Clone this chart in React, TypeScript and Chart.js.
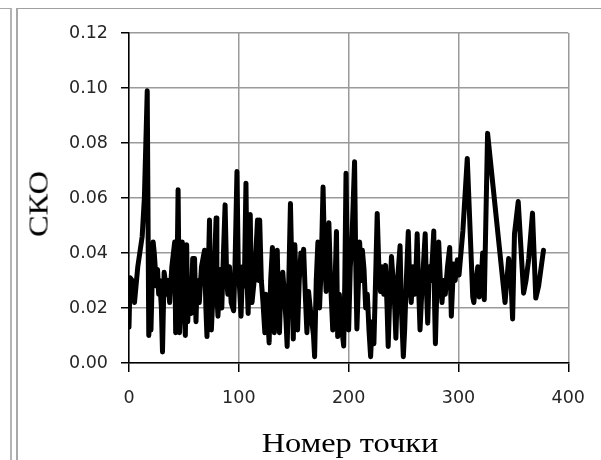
import React, { useEffect, useRef } from "react";
import { Chart, registerables } from "chart.js";

Chart.register(...registerables);

// Point index (x) and СКО values (y)
const pointX: number[] = [
  0, 1, 3, 5, 8, 12, 14, 16.6, 18, 19, 20, 22, 23, 25, 26, 27, 28, 29.5, 30.5, 32,
  33, 34, 35.5, 37, 39, 41.6, 42.5, 44, 44.7, 46, 47, 48.5, 49.5, 51.3, 52.5, 53.5, 55, 56.5, 58, 59.7,
  61, 62, 64, 66, 68.8, 70, 71, 72, 73.3, 74.3, 75, 77, 78.2, 79.3, 80, 81, 83, 84.5, 86, 87.5,
  89, 90, 91.5, 93, 95.3, 96.5, 98.3, 99.5, 101, 102, 103.5, 105, 106.5, 107.5, 108.5, 110.4, 111.3, 112, 114, 115.5,
  117, 118, 119, 120.5, 122, 123.7, 124.5, 126, 127.6, 129, 130.6, 131.5, 132.3, 133.5, 135, 136, 137, 138.5, 140, 141.5,
  143, 144, 145.5, 147, 148.5, 149.6, 151, 152.5, 153.5, 155, 156.5, 158, 159, 160.5, 162, 163.5, 165, 166.5, 168, 169,
  170.5, 172, 173.5, 175, 176.7, 178, 179.5, 180.5, 182, 183.5, 185.5, 187, 188.9, 190, 191.5, 193, 195.5, 196.5, 197.6, 199,
  200, 201.5, 203, 205.4, 206.5, 207.5, 209, 210, 211.5, 212.5, 214, 215.5, 217, 218.5, 220, 221.5, 223, 224.5, 226, 227.5,
  229, 230.5, 232, 233.6, 235, 236, 237.5, 239, 240.5, 242, 243, 244.5, 246.8, 248, 249.8, 251, 252.5, 254.3, 255.5, 257,
  258.5, 260, 261, 262.4, 263.5, 265, 266.5, 268, 269.7, 271, 272, 273.5, 275, 276.5, 277.5, 278.3, 279, 280.5, 282, 283.5,
  285, 286.5, 288, 290, 292, 293.5, 295.5, 297, 299, 300.5, 304, 308, 313, 314, 316, 317.6, 319, 320.5, 322, 323.5,
  326.5, 342.4, 345.7, 347.8, 349.3, 351, 354.4, 359.3, 361.5, 364, 367.4, 370.4, 373, 377.4,
];

const skoValues: number[] = [
  0.013, 0.031, 0.030, 0.022, 0.035, 0.046, 0.060, 0.099, 0.010, 0.016, 0.012, 0.044, 0.040, 0.028, 0.034, 0.025, 0.030, 0.020, 0.004, 0.033,
  0.030, 0.025, 0.030, 0.022, 0.035, 0.044, 0.011, 0.040, 0.063, 0.011, 0.030, 0.044, 0.025, 0.010, 0.043, 0.015, 0.030, 0.018, 0.038, 0.038,
  0.015, 0.030, 0.022, 0.035, 0.041, 0.020, 0.0096, 0.030, 0.052, 0.020, 0.012, 0.030, 0.040, 0.0527, 0.025, 0.017, 0.034, 0.020, 0.040, 0.0575,
  0.030, 0.025, 0.035, 0.022, 0.019, 0.035, 0.0696, 0.035, 0.025, 0.017, 0.035, 0.028, 0.0654, 0.030, 0.018, 0.054, 0.030, 0.022, 0.030, 0.040,
  0.052, 0.030, 0.052, 0.030, 0.022, 0.011, 0.025, 0.020, 0.0073, 0.030, 0.042, 0.025, 0.011, 0.035, 0.041, 0.022, 0.011, 0.030, 0.033, 0.025,
  0.015, 0.006, 0.030, 0.058, 0.030, 0.0087, 0.043, 0.025, 0.012, 0.030, 0.040, 0.035, 0.0414, 0.025, 0.011, 0.026, 0.020, 0.015, 0.010, 0.0023,
  0.030, 0.044, 0.020, 0.035, 0.064, 0.040, 0.026, 0.035, 0.051, 0.030, 0.012, 0.020, 0.0478, 0.0096, 0.025, 0.015, 0.0062, 0.030, 0.069, 0.030,
  0.012, 0.035, 0.045, 0.0732, 0.035, 0.0124, 0.030, 0.044, 0.030, 0.041, 0.034, 0.020, 0.025, 0.012, 0.0023, 0.015, 0.007, 0.030, 0.0544, 0.035,
  0.026, 0.035, 0.025, 0.0355, 0.020, 0.006, 0.025, 0.0387, 0.030, 0.020, 0.009, 0.030, 0.0426, 0.020, 0.0023, 0.012, 0.030, 0.0478, 0.030, 0.022,
  0.035, 0.025, 0.030, 0.047, 0.030, 0.012, 0.025, 0.035, 0.047, 0.025, 0.0145, 0.035, 0.030, 0.040, 0.048, 0.020, 0.007, 0.030, 0.044, 0.030,
  0.022, 0.030, 0.025, 0.035, 0.042, 0.017, 0.036, 0.030, 0.0375, 0.032, 0.048, 0.0744, 0.024, 0.022, 0.030, 0.035, 0.024, 0.028, 0.040, 0.023,
  0.0835, 0.022, 0.038, 0.030, 0.016, 0.047, 0.0587, 0.0254, 0.030, 0.038, 0.0545, 0.0236, 0.028, 0.041,
];

const xTicks: number[] = [0, 100, 200, 300, 400];
const yTickLabels: string[] = ["0.00", "0.02", "0.04", "0.06", "0.08", "0.10", "0.12"];
const xTitle = "Номер точки";
const yTitle = "СКО";

export default function App() {
  const ref = useRef<HTMLCanvasElement | null>(null);

  useEffect(() => {
    if (!ref.current) return;
    const data = pointX.map((x, i) => ({ x, y: skoValues[i] }));
    const tickFont = { family: "'DejaVu Sans', sans-serif", size: 17.5 };
    const chart = new Chart(ref.current, {
      type: "scatter",
      data: {
        datasets: [
          {
            data,
            showLine: true,
            borderColor: "#000",
            backgroundColor: "#000",
            borderWidth: 5,
            pointRadius: 0,
            tension: 0,
            borderJoinStyle: "round",
            borderCapStyle: "round",
          } as any,
        ],
      },
      options: {
        animation: false,
        responsive: false,
        devicePixelRatio: 1,
        layout: { padding: { top: 33, right: 30, left: 0, bottom: 0 } },
        plugins: { legend: { display: false }, tooltip: { enabled: false }, title: { display: false } },
        scales: {
          x: {
            type: "linear",
            min: xTicks[0],
            max: xTicks[xTicks.length - 1],
            afterFit: (s: any) => { s.height = 97; },
            afterBuildTicks: (s: any) => { s.ticks = xTicks.map((v) => ({ value: v })); },
            ticks: { font: tickFont, color: "#262626", padding: 16, maxRotation: 0 },
            grid: { color: "#9a9a9a", lineWidth: 1.5, tickColor: "#000", tickLength: 9, tickWidth: 1.5 },
            border: { color: "#000", width: 1.5 },
          },
          y: {
            type: "linear",
            min: 0,
            max: 0.12,
            afterFit: (s: any) => { s.width = 129; },
            afterBuildTicks: (s: any) => { s.ticks = yTickLabels.map((t) => ({ value: parseFloat(t) })); },
            ticks: {
              font: tickFont,
              color: "#262626",
              padding: 13,
              callback: (_v: any, i: number) => yTickLabels[i],
            },
            grid: { color: "#9a9a9a", lineWidth: 1.5, tickColor: "#000", tickLength: 8, tickWidth: 1.5 },
            border: { color: "#000", width: 1.5 },
          },
        },
      },
    });
    return () => chart.destroy();
  }, []);

  const serif = "'Liberation Serif', 'Times New Roman', serif";
  return (
    <div style={{ position: "fixed", left: 0, top: 0, width: 601, height: 460, background: "#fff", overflow: "hidden" }}>
      <div style={{ position: "absolute", left: -20, top: 8, width: 30, height: 470, borderTop: "1px solid #a8a8a8", borderRight: "2px solid #b4b4b4" }} />
      <div style={{ position: "absolute", left: 16, top: 8, width: 600, height: 470, borderTop: "1px solid #a0a0a0", borderLeft: "2px solid #a8a8a8" }} />
      <canvas ref={ref} width={601} height={460} style={{ position: "absolute", left: 0, top: 0 }} />
      <div
        style={{
          position: "absolute", left: 350, top: 430, fontFamily: serif, fontSize: 27, lineHeight: "27px",
          whiteSpace: "nowrap", color: "#000", transform: "translateX(-50%) scaleX(1.2)",
        }}
      >
        {xTitle}
      </div>
      <div
        style={{
          position: "absolute", left: 39, top: 204, fontFamily: serif, fontSize: 27, lineHeight: "27px",
          whiteSpace: "nowrap", color: "#000", transform: "translate(-50%, -50%) rotate(-90deg) scaleX(1.2)",
        }}
      >
        {yTitle}
      </div>
    </div>
  );
}
